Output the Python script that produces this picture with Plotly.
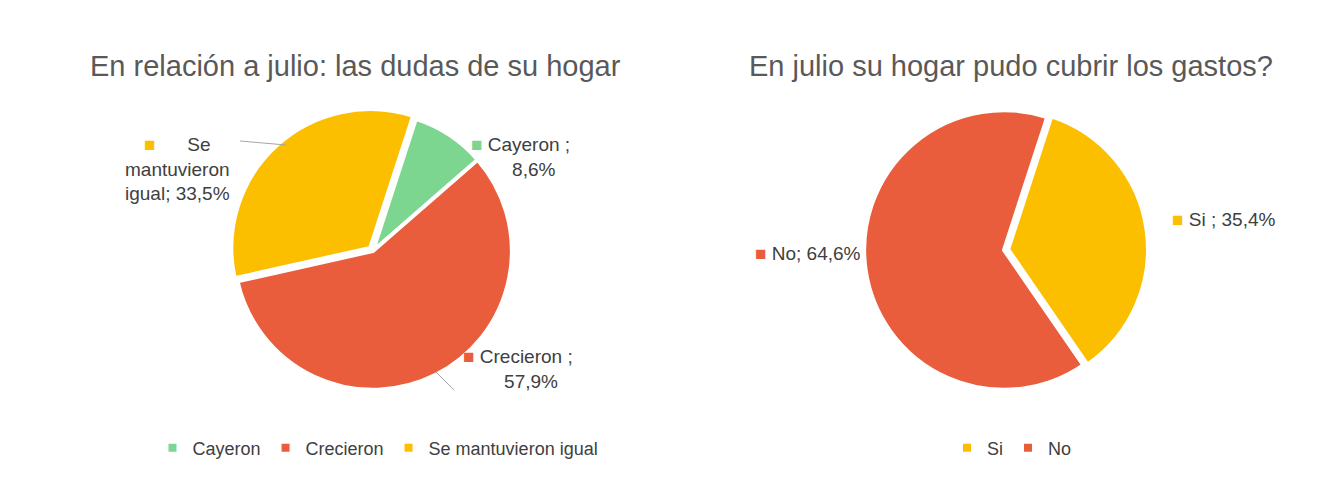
import plotly.graph_objects as go

W, H = 1339, 495
left_labels = ["Cayeron", "Crecieron", "Se mantuvieron igual"]
left_values = [8.6, 57.9, 33.5]
left_colors = ["#7dd68f", "#e95d3c", "#fbbf00"]
right_labels = ["Si", "No"]
right_values = [35.4, 64.6]
right_colors = ["#fbbf00", "#e95d3c"]

def px(x0, y0, x1, y1):
    return dict(x=[x0 / W, x1 / W], y=[1 - y1 / H, 1 - y0 / H])

fig = go.Figure()
fig.add_trace(go.Pie(labels=left_labels, values=left_values, sort=False, direction="clockwise",
                     rotation=18, textinfo="none", marker=dict(colors=left_colors, line=dict(color="white", width=4)),
                     pull=[0, 0, 0.03], domain=px(222, 100, 508, 386), legend="legend", hoverinfo="label+percent"))
fig.add_trace(go.Pie(labels=right_labels, values=right_values, sort=False, direction="clockwise",
                     rotation=18, textinfo="none", marker=dict(colors=right_colors, line=dict(color="white", width=4)),
                     pull=[0.03, 0], domain=px(852, 98, 1140, 386), legend="legend2", hoverinfo="label+percent"))

gray = "#404040"
F = "Liberation Sans, Arial"
ann = []
def a(x, y, text, size=19, color=gray, align="center", xanchor="center"):
    ann.append(dict(x=x / W, y=1 - y / H, xref="paper", yref="paper", text=text, showarrow=False,
                    font=dict(size=size, color=color, family=F), align=align, xanchor=xanchor))
a(80, 40, "En relación a julio: las dudas de su hogar", size=29, color="#595959", xanchor="left")
a(1003, 40, "En julio su hogar pudo cubrir los gastos?", size=29, color="#595959")
a(170, 124, "<span style='color:#fbbf00'>■</span>      Se<br>mantuvieron<br>igual; 33,5%")
a(512, 124, "<span style='color:#7dd68f'>■</span> Cayeron ;<br>     8,6%")
a(510, 386, "<span style='color:#e95d3c'>■</span> Crecieron ;<br>     57,9%")
a(1215, 211, "<span style='color:#fbbf00'>■</span> Si ; 35,4%")
a(800, 245, "<span style='color:#e95d3c'>■</span> No; 64,6%")

fig.update_layout(
    width=W, height=H, margin=dict(l=0, r=0, t=0, b=0), paper_bgcolor="white",
    annotations=ann,
    shapes=[dict(type="line", xref="paper", yref="paper", x0=232/W, y0=1-133/H, x1=278/W, y1=1-137/H,
                 line=dict(color="#a6a6a6", width=1)),
            dict(type="line", xref="paper", yref="paper", x0=428/W, y0=1-364/H, x1=446/W, y1=1-382/H,
                 line=dict(color="#a6a6a6", width=1))],
    legend=dict(orientation="h", x=370/W, y=1-440/H, xanchor="center", yanchor="middle",
                font=dict(size=18, color=gray, family=F), itemwidth=30),
    legend2=dict(orientation="h", x=1004/W, y=1-440/H, xanchor="center", yanchor="middle",
                 font=dict(size=18, color=gray, family=F), itemwidth=30),
)
fig.write_html("out.html")
